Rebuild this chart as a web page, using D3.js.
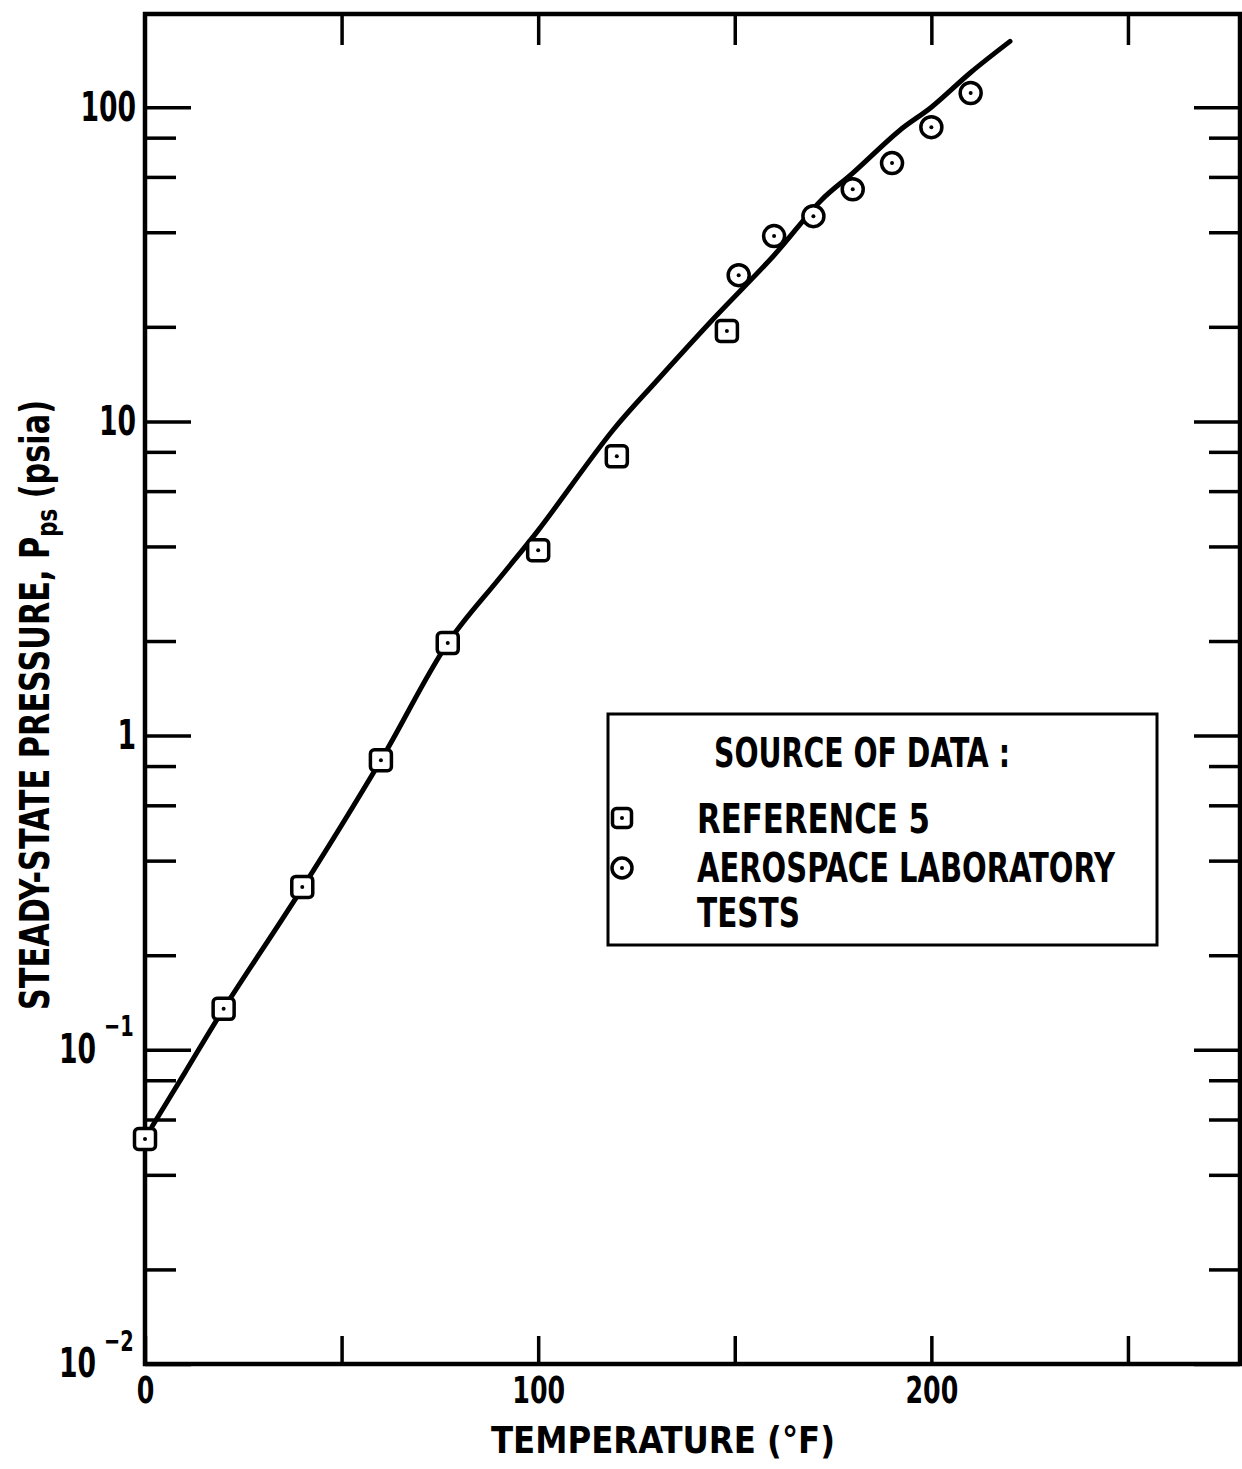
<!DOCTYPE html>
<html>
<head>
<meta charset="utf-8">
<script src="https://cdn.jsdelivr.net/npm/d3@7"></script>
<style>
  body { margin: 0; background: #fff; }
  text { font-family: "DejaVu Sans Condensed", "Liberation Sans Narrow", sans-serif; font-weight: bold; fill: #000; }
</style>
</head>
<body>
<div id="chart"></div>
<script>
'use strict';

// Reference 5 (squares)
const refTemp = [0, 20, 40, 60, 77, 100, 120, 148]
const refPres = [0.052, 0.135, 0.33, 0.835, 1.97, 3.89, 7.74, 19.4]

// Aerospace Laboratory tests (circles)
const labTemp = [151, 160, 170, 180, 190, 200, 210]
const labPres = [29.2, 38.9, 45, 54.8, 66.4, 86.4, 111]

// faired curve
const curveTemp = [1.8, 10, 20, 40, 60, 77, 90, 100, 119, 130, 145, 160, 172, 180, 192, 200, 210, 220]
const curvePres = [0.057, 0.084, 0.135, 0.327, 0.835, 1.97, 3.15, 4.5, 9.37, 13.4, 21.5, 33.8, 50.6, 61.7, 84.5, 100, 129, 162]

const xTicks = [0, 50, 100, 150, 200, 250]
const xTickLabels = ['0', '', '100', '', '200', '']
const yDecades = [0.01, 0.1, 1, 10, 100]
const yDecadeLabels = ['10', '10', '1', '10', '100']
const yDecadeExps = ['\u22122', '\u22121', '', '', '']
const yMinorSteps = [2, 4, 6, 8]

const legendTitle = 'SOURCE OF DATA :'
const legendItems = ['REFERENCE 5', 'AEROSPACE LABORATORY', 'TESTS']

const width = 1242, height = 1469
const plot = { left: 145, right: 1240, top: 14, bottom: 1364 }

// squeeze a text horizontally, the lettering of the original is narrow
const condense = (sel, f) => sel.each(function () {
    const w = this.getComputedTextLength()
    if (w > 0) d3.select(this).attr('textLength', w * f).attr('lengthAdjust', 'spacingAndGlyphs')
})

const svg = d3.select('#chart')
    .append('svg')
    .attr('width', width)
    .attr('height', height)

svg.append('rect').attr('width', width).attr('height', height).attr('fill', '#fff')

const xScale = d3.scaleLinear()
    .domain([0, 278.5])
    .range([plot.left, plot.right])

const yScale = d3.scaleLog()
    .domain([0.01, 198])
    .range([plot.bottom, plot.top])

const yMinor = []
yDecades.forEach(d => yMinorSteps.forEach(s => {
    if (d * s < 198) yMinor.push(d * s)
}))

const styleAxis = g => {
    g.select('.domain').remove()
    g.selectAll('.tick line').attr('stroke', '#000').attr('stroke-width', 3.5)
    g.selectAll('.tick text').attr('font-size', 40)
}

// bottom axis
const bottomAxis = svg.append('g')
    .attr('transform', `translate(0, ${plot.bottom})`)
    .call(d3.axisBottom(xScale)
        .tickValues(xTicks)
        .tickSizeInner(-28).tickSizeOuter(0)
        .tickPadding(13)
        .tickFormat((d, i) => xTickLabels[i]))
    .call(styleAxis)
bottomAxis.selectAll('.tick text').attr('font-size', 37).call(condense, 0.76)

// top axis
svg.append('g')
    .attr('transform', `translate(0, ${plot.top})`)
    .call(d3.axisTop(xScale)
        .tickValues(xTicks.slice(1))
        .tickSizeInner(-31).tickSizeOuter(0)
        .tickFormat(''))
    .call(styleAxis)

// left axis, decades with labels
const leftMajor = svg.append('g')
    .attr('transform', `translate(${plot.left}, 0)`)
    .call(d3.axisLeft(yScale)
        .tickValues(yDecades)
        .tickSizeInner(-46).tickSizeOuter(0)
        .tickPadding(9)
        .tickFormat((d, i) => yDecadeLabels[i]))
    .call(styleAxis)

leftMajor.selectAll('.tick').each(function (d, i) {
    if (!yDecadeExps[i]) return
    const tick = d3.select(this)
    tick.select('text').attr('x', -49)
    tick.append('text')
        .attr('x', -41)
        .attr('y', -14)
        .attr('font-size', 29)
        .attr('text-anchor', 'start')
        .text(yDecadeExps[i])
})
leftMajor.selectAll('.tick text').call(condense, 0.74)

svg.append('g')
    .attr('transform', `translate(${plot.left}, 0)`)
    .call(d3.axisLeft(yScale)
        .tickValues(yMinor)
        .tickSizeInner(-31).tickSizeOuter(0)
        .tickFormat(''))
    .call(styleAxis)

// right axis
svg.append('g')
    .attr('transform', `translate(${plot.right}, 0)`)
    .call(d3.axisRight(yScale)
        .tickValues(yDecades)
        .tickSizeInner(-46).tickSizeOuter(0)
        .tickFormat(''))
    .call(styleAxis)

svg.append('g')
    .attr('transform', `translate(${plot.right}, 0)`)
    .call(d3.axisRight(yScale)
        .tickValues(yMinor)
        .tickSizeInner(-31).tickSizeOuter(0)
        .tickFormat(''))
    .call(styleAxis)

// frame
svg.append('rect')
    .attr('x', plot.left).attr('y', plot.top)
    .attr('width', plot.right - plot.left)
    .attr('height', plot.bottom - plot.top)
    .attr('fill', 'none')
    .attr('stroke', '#000')
    .attr('stroke-width', 4.5)

// curve
const curveData = curveTemp.map((t, i) => [t, curvePres[i]])
svg.append('path')
    .datum(curveData)
    .attr('fill', 'none')
    .attr('stroke', '#000')
    .attr('stroke-width', 5)
    .attr('stroke-linecap', 'round')
    .attr('d', d3.line()
        .x(d => xScale(d[0]))
        .y(d => yScale(d[1]))
        .curve(d3.curveCatmullRom.alpha(0.5)))

const drawSquare = (g, cx, cy, s) => {
    g.append('rect')
        .attr('x', cx - s / 2).attr('y', cy - s / 2)
        .attr('width', s).attr('height', s)
        .attr('rx', 4)
        .attr('fill', '#fff')
        .attr('stroke', '#000')
        .attr('stroke-width', 3.5)
    g.append('circle').attr('cx', cx).attr('cy', cy).attr('r', 2).attr('fill', '#000')
}

const drawCircle = (g, cx, cy, r) => {
    g.append('circle')
        .attr('cx', cx).attr('cy', cy).attr('r', r)
        .attr('fill', '#fff')
        .attr('stroke', '#000')
        .attr('stroke-width', 3.5)
    g.append('circle').attr('cx', cx).attr('cy', cy).attr('r', 2).attr('fill', '#000')
}

const marks = svg.append('g')
refTemp.forEach((t, i) => drawSquare(marks, xScale(t), yScale(refPres[i]), 21))
labTemp.forEach((t, i) => drawCircle(marks, xScale(t), yScale(labPres[i]), 10.5))

// legend
const legend = svg.append('g')
legend.append('rect')
    .attr('x', 608).attr('y', 714)
    .attr('width', 549).attr('height', 231)
    .attr('fill', '#fff')
    .attr('stroke', '#000')
    .attr('stroke-width', 3)

const legendText = (x, y, s, len) => legend.append('text')
    .attr('x', x).attr('y', y)
    .attr('font-size', 40)
    .attr('textLength', len)
    .attr('lengthAdjust', 'spacingAndGlyphs')
    .text(s)

legendText(714, 767, legendTitle, 296)
drawSquare(legend, 622, 818, 19)
drawCircle(legend, 622, 868, 10)
legendText(697, 833, legendItems[0], 233)
legendText(697, 882, legendItems[1], 418)
legendText(697, 927, legendItems[2], 103)

// axis titles
svg.append('text')
    .attr('x', 663).attr('y', 1453)
    .attr('text-anchor', 'middle')
    .attr('font-size', 38)
    .attr('textLength', 344)
    .attr('lengthAdjust', 'spacingAndGlyphs')
    .text('TEMPERATURE (\u00b0F)')

const yTitle = svg.append('text')
    .attr('transform', 'translate(49, 705) rotate(-90)')
    .attr('text-anchor', 'middle')
    .attr('font-size', 40)
    .attr('textLength', 610)
    .attr('lengthAdjust', 'spacingAndGlyphs')
yTitle.append('tspan').text('STEADY-STATE PRESSURE, P')
yTitle.append('tspan').attr('font-size', 28).attr('dy', 8).text('ps')
yTitle.append('tspan').attr('dy', -8).text(' (psia)')
</script>
</body>
</html>
